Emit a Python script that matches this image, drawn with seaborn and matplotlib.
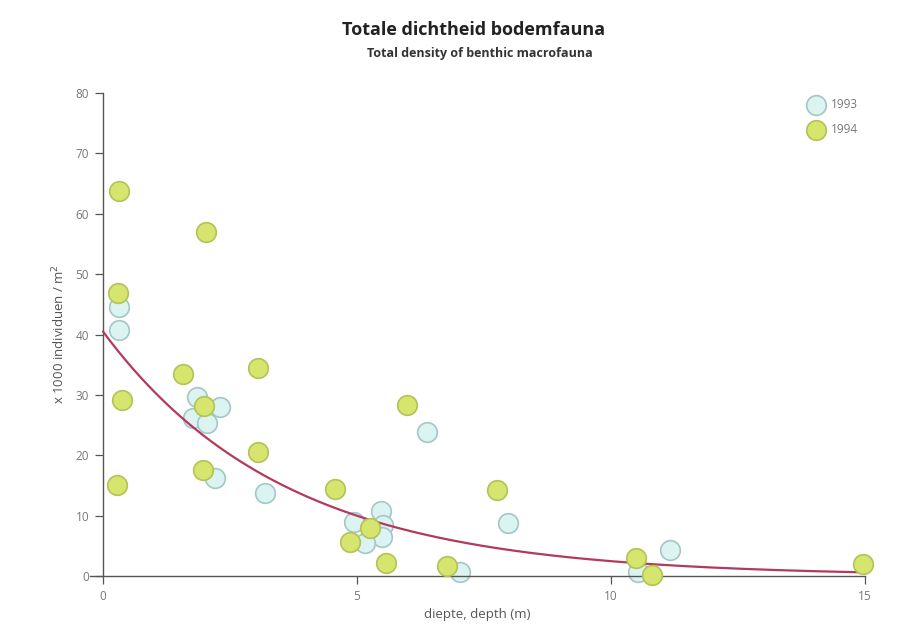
import numpy as np
import pandas as pd
import matplotlib
matplotlib.use("Agg")
import matplotlib.pyplot as plt
import seaborn as sns

# ---- data ----
x1993 = [0.31, 0.31, 1.85, 2.30, 1.77, 2.05, 2.20, 3.19, 4.95, 5.48, 5.52, 5.50, 5.15, 6.37, 7.03, 7.98, 10.53, 11.16]
y1993 = [44.5, 40.7, 29.7, 28.0, 26.2, 25.3, 16.2, 13.7, 8.9, 10.7, 8.5, 6.5, 5.4, 23.9, 0.7, 8.8, 0.6, 4.3]

x1994 = [0.31, 0.30, 0.37, 0.28, 2.03, 1.57, 3.05, 1.99, 1.97, 3.05, 4.57, 5.98, 4.86, 5.26, 5.57, 6.77, 7.76, 10.49, 10.80, 14.96]
y1994 = [63.7, 46.9, 29.1, 15.1, 57.0, 33.4, 34.4, 28.1, 17.5, 20.5, 14.4, 28.3, 5.6, 7.9, 2.2, 1.7, 14.2, 3.0, 0.1, 2.0]

# exponential fit curve parameters (y = a * exp(-k * x))
fit_a = 40.5
fit_k = 0.28
fit_xmax = 15.0

xticks = [0, 5, 10, 15]
yticks = [0, 10, 20, 30, 40, 50, 60, 70, 80]

title = "Totale dichtheid bodemfauna"
subtitle = "Total density of benthic macrofauna"
xlabel = "diepte, depth (m)"
ylabel = "x 1000 individuen / m$^2$"

# ---- build tables ----
df93 = pd.DataFrame({"x": x1993, "y": y1993, "jaar": "1993"})
df94 = pd.DataFrame({"x": x1994, "y": y1994, "jaar": "1994"})
fx = np.linspace(0, fit_xmax, 200)
dfit = pd.DataFrame({"x": fx, "y": fit_a * np.exp(-fit_k * fx)})

sns.set_style("white")
plt.rcParams["font.family"] = ["Open Sans", "DejaVu Sans"]

fig = plt.figure(figsize=(9.1, 6.33), dpi=100)
ax = fig.add_axes([0.0992, 0.09, 0.8513, 0.763])

c93_face, c93_edge = "#dcf4f1", "#a3c6c8"
c94_face, c94_edge = "#d6e56e", "#b4c256"

sns.scatterplot(data=df93, x="x", y="y", ax=ax, s=200, color=c93_face,
                edgecolor=c93_edge, linewidth=1.2, label="1993", zorder=2, clip_on=False)
sns.lineplot(data=dfit, x="x", y="y", ax=ax, color="#b23a5c", linewidth=1.6,
             zorder=3, legend=False)
sns.scatterplot(data=df94, x="x", y="y", ax=ax, s=200, color=c94_face,
                edgecolor=c94_edge, linewidth=1.2, label="1994", zorder=4, clip_on=False)

ax.set_xlim(-0.25, 15.0)
ax.set_ylim(0, 80)
ax.set_xticks(xticks)
ax.set_yticks(yticks)
ax.spines["left"].set_position(("data", 0))
for s in ["top", "right"]:
    ax.spines[s].set_visible(False)
for s in ["left", "bottom"]:
    ax.spines[s].set_color("#555555")
    ax.spines[s].set_linewidth(1.0)
ax.tick_params(axis="both", which="both", direction="out", length=6, width=0.9,
               color="#555555", labelcolor="#777777", labelsize=8.5, pad=4,
               left=True, bottom=True)

ax.set_xlabel(xlabel, fontsize=9.5, color="#555555", labelpad=4)
ax.set_ylabel(ylabel, fontsize=9.5, color="#555555", labelpad=6)

fig.text(0.520, 0.952, title, ha="center", va="center", fontsize=13,
         fontweight="bold", color="#222222")
fig.text(0.527, 0.916, subtitle, ha="center", va="center", fontsize=9,
         fontweight="bold", color="#333333")

leg = ax.legend(loc="upper right", bbox_to_anchor=(1.005, 1.012), frameon=False,
                fontsize=8.5, labelcolor="#777777", handletextpad=0.3,
                labelspacing=1.0, markerscale=1.0)

fig.savefig("out.png", dpi=100)
